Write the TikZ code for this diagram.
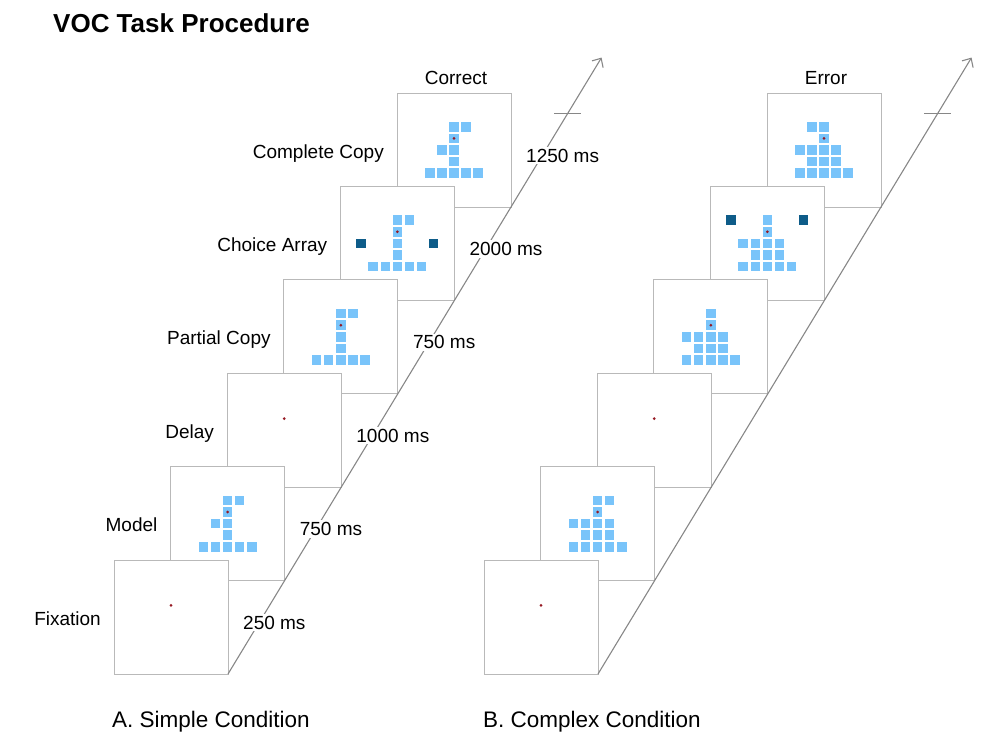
\documentclass[tikz,border=0pt]{standalone}
\usepackage{fontspec}
\setmainfont{Liberation Sans}
\usepackage{tikz}
\usetikzlibrary{calc,arrows.meta}

\definecolor{lightcell}{RGB}{121,196,250}
\definecolor{darkcell}{RGB}{14,92,137}
\definecolor{dotred}{RGB}{150,25,35}
\definecolor{linegray}{RGB}{135,135,135}

\begin{document}
\begin{tikzpicture}[x=1pt,y=-1pt,
   frame/.style={draw=gray!55, line width=0.8pt, fill=white, minimum width=114pt, minimum height=114pt, inner sep=0pt, outer sep=0pt},
   stagelabel/.style={font=\fontsize{19}{22}\selectfont, inner sep=0pt},
   timelabel/.style={font=\fontsize{19}{22}\selectfont, fill=white, inner sep=2pt},
   timeline/.style={draw=linegray, line width=1.1pt},
   cells/.style={shift={(#1)}, x=12.1pt, y=-11.6pt}]
   \useasboundingbox (0,0) rectangle (1006,750);

   % frames, simple condition
   \node[frame] (s5) at (454,150) {};
   \node[frame] (s4) at (397.4,243.4) {};
   \node[frame] (s3) at (340.8,336.8) {};
   \node[frame] (s2) at (284.2,430.2) {};
   \node[frame] (s1) at (227.6,523.6) {};
   \node[frame] (s0) at (171,617) {};
   % frames, complex condition
   \node[frame] (c5) at (824,150) {};
   \node[frame] (c4) at (767.4,243.4) {};
   \node[frame] (c3) at (710.8,336.8) {};
   \node[frame] (c2) at (654.2,430.2) {};
   \node[frame] (c1) at (597.6,523.6) {};
   \node[frame] (c0) at (541,617) {};

   % time axes
   \coordinate (tipA) at ($(s0.south east)!6.6!(s1.south east)$);
   \coordinate (tickA) at ($(s0.south east)!6!(s1.south east)$);
   \coordinate (tipB) at ($(c0.south east)!6.6!(c1.south east)$);
   \coordinate (tickB) at ($(c0.south east)!6!(c1.south east)$);
   \draw[timeline,-{Straight Barb[length=7pt,width=13pt]}] (s0.south east) -- (tipA);
   \draw[timeline] ($(tickA)+(-13.5,0)$) -- ($(tickA)+(13.5,0)$);
   \draw[timeline,-{Straight Barb[length=7pt,width=13pt]}] (c0.south east) -- (tipB);
   \draw[timeline] ($(tickB)+(-13.5,0)$) -- ($(tickB)+(13.5,0)$);

   % simple: complete copy
   \begin{scope}[cells=s5.center]
     \foreach \c/\r in {0/-2,1/-2,0/-1,-1/0,0/0,0/1,-2/2,-1/2,0/2,1/2,2/2}
       \fill[lightcell] (\c,\r) +(-4.75pt,-4.75pt) rectangle +(4.75pt,4.75pt);
     \fill[dotred] (0,-1) circle (1.5pt);
   \end{scope}
   % simple: choice array
   \begin{scope}[cells=s4.center]
     \foreach \c/\r in {0/-2,1/-2,0/-1,0/0,0/1,-2/2,-1/2,0/2,1/2,2/2}
       \fill[lightcell] (\c,\r) +(-4.75pt,-4.75pt) rectangle +(4.75pt,4.75pt);
     \foreach \c/\r in {-3/0,3/0}
       \fill[darkcell] (\c,\r) +(-4.75pt,-4.75pt) rectangle +(4.75pt,4.75pt);
     \fill[dotred] (0,-1) circle (1.5pt);
   \end{scope}
   % simple: partial copy
   \begin{scope}[cells=s3.center]
     \foreach \c/\r in {0/-2,1/-2,0/-1,0/0,0/1,-2/2,-1/2,0/2,1/2,2/2}
       \fill[lightcell] (\c,\r) +(-4.75pt,-4.75pt) rectangle +(4.75pt,4.75pt);
     \fill[dotred] (0,-1) circle (1.5pt);
   \end{scope}
   % simple: delay
   \fill[dotred] ($(s2.center)+(0,-11.6)$) circle (1.5pt);
   % simple: model
   \begin{scope}[cells=s1.center]
     \foreach \c/\r in {0/-2,1/-2,0/-1,-1/0,0/0,0/1,-2/2,-1/2,0/2,1/2,2/2}
       \fill[lightcell] (\c,\r) +(-4.75pt,-4.75pt) rectangle +(4.75pt,4.75pt);
     \fill[dotred] (0,-1) circle (1.5pt);
   \end{scope}
   % simple: fixation
   \fill[dotred] ($(s0.center)+(0,-11.6)$) circle (1.5pt);

   % complex: complete copy (error)
   \begin{scope}[cells=c5.center]
     \foreach \c/\r in {-1/-2,0/-2,0/-1,-2/0,-1/0,0/0,1/0,-1/1,0/1,1/1,-2/2,-1/2,0/2,1/2,2/2}
       \fill[lightcell] (\c,\r) +(-4.75pt,-4.75pt) rectangle +(4.75pt,4.75pt);
     \fill[dotred] (0,-1) circle (1.5pt);
   \end{scope}
   % complex: choice array
   \begin{scope}[cells=c4.center]
     \foreach \c/\r in {0/-2,0/-1,-2/0,-1/0,0/0,1/0,-1/1,0/1,1/1,-2/2,-1/2,0/2,1/2,2/2}
       \fill[lightcell] (\c,\r) +(-4.75pt,-4.75pt) rectangle +(4.75pt,4.75pt);
     \foreach \c/\r in {-3/-2,3/-2}
       \fill[darkcell] (\c,\r) +(-4.75pt,-4.75pt) rectangle +(4.75pt,4.75pt);
     \fill[dotred] (0,-1) circle (1.5pt);
   \end{scope}
   % complex: partial copy
   \begin{scope}[cells=c3.center]
     \foreach \c/\r in {0/-2,0/-1,-2/0,-1/0,0/0,1/0,-1/1,0/1,1/1,-2/2,-1/2,0/2,1/2,2/2}
       \fill[lightcell] (\c,\r) +(-4.75pt,-4.75pt) rectangle +(4.75pt,4.75pt);
     \fill[dotred] (0,-1) circle (1.5pt);
   \end{scope}
   % complex: delay
   \fill[dotred] ($(c2.center)+(0,-11.6)$) circle (1.5pt);
   % complex: model
   \begin{scope}[cells=c1.center]
     \foreach \c/\r in {0/-2,1/-2,0/-1,-2/0,-1/0,0/0,1/0,-1/1,0/1,1/1,-2/2,-1/2,0/2,1/2,2/2}
       \fill[lightcell] (\c,\r) +(-4.75pt,-4.75pt) rectangle +(4.75pt,4.75pt);
     \fill[dotred] (0,-1) circle (1.5pt);
   \end{scope}
   % complex: fixation
   \fill[dotred] ($(c0.center)+(0,-11.6)$) circle (1.5pt);

   % stage names
   \node[stagelabel, anchor=base east] (l0) at ($(s0.west)+(-13,8)$) {Fixation};
   \node[stagelabel, anchor=base east] (l1) at ($(s1.west)+(-13,8)$) {Model};
   \node[stagelabel, anchor=base east] (l2) at ($(s2.west)+(-13,8)$) {Delay};
   \node[stagelabel, anchor=base east] (l3) at ($(s3.west)+(-13,8)$) {Partial Copy};
   \node[stagelabel, anchor=base east] (l4) at ($(s4.west)+(-13,8)$) {Choice Array};
   \node[stagelabel, anchor=base east] (l5) at ($(s5.west)+(-13,8)$) {Complete Copy};
   \node[stagelabel, anchor=base] (ok) at ($(s5.north)+(2,-9)$) {Correct};
   \node[stagelabel, anchor=base] (err) at ($(c5.north)+(2,-9)$) {Error};

   % durations
   \node[timelabel, anchor=base west] (t0) at ($(s0.east)+(13,12)$) {250 ms};
   \node[timelabel, anchor=base west] (t1) at ($(s1.east)+(13,12)$) {750 ms};
   \node[timelabel, anchor=base west] (t2) at ($(s2.east)+(13,12)$) {1000 ms};
   \node[timelabel, anchor=base west] (t3) at ($(s3.east)+(13,12)$) {750 ms};
   \node[timelabel, anchor=base west] (t4) at ($(s4.east)+(13,12)$) {2000 ms};
   \node[timelabel, anchor=base west] (t5) at ($(s5.east)+(13,12)$) {1250 ms};

   % titles
   \node[anchor=base west, inner sep=0pt, font=\fontsize{26}{30}\selectfont\bfseries] (title) at (53,32) {VOC Task Procedure};
   \node[anchor=base west, inner sep=0pt, font=\fontsize{22.5}{26}\selectfont] (capA) at (112,727) {A. Simple Condition};
   \node[anchor=base west, inner sep=0pt, font=\fontsize{22.5}{26}\selectfont] (capB) at (483,727) {B. Complex Condition};
\end{tikzpicture}
\end{document}
